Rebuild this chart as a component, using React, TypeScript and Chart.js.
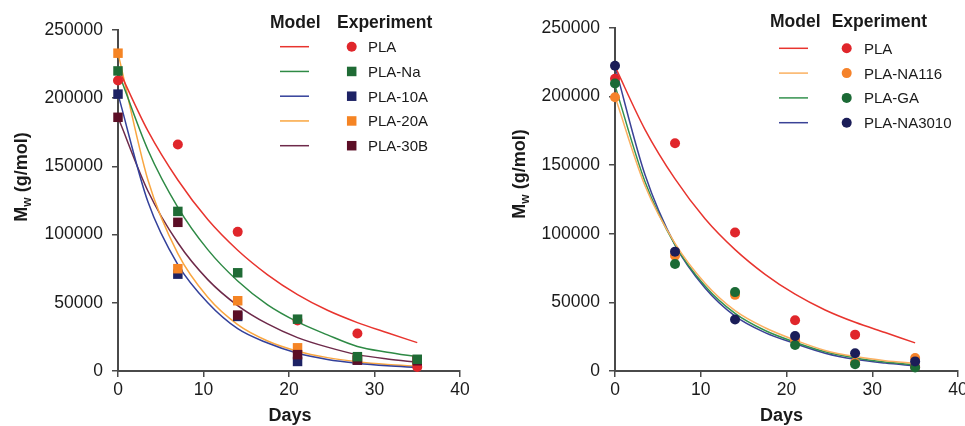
import React, { useEffect, useRef } from 'react';
import { Chart, registerables } from 'chart.js';

Chart.register(...registerables);

const FONT = '"Liberation Sans", Arial, Helvetica, sans-serif';
Chart.defaults.font.family = FONT;

// ---------- shared axes ----------
const expDays = [0, 7, 14, 21, 28, 35];
const modelDays = [0, 3.5, 7, 10.5, 14, 17.5, 21, 24.5, 28, 31.5, 35];
const xTicks = [0, 10, 20, 30, 40];
const yTicks = [0, 50000, 100000, 150000, 200000, 250000];
const xTitle = 'Days';
const yTitleMain = 'M';
const yTitleSub = 'w';
const yTitleRest = ' (g/mol)';
const legendHeaderModel = 'Model';
const legendHeaderExp = 'Experiment';

// ---------- left panel ----------
const leftNames = ['PLA', 'PLA-Na', 'PLA-10A', 'PLA-20A', 'PLA-30B'];
const leftExpPLA = [213000, 166000, 102000, 37000, 27500, 3000];
const leftExpNa = [220000, 117000, 72000, 38000, 10500, 8600];
const leftExp10A = [203000, 71000, 40000, 7000, 8000, 8000];
const leftExp20A = [233000, 75000, 51500, 17000, 9000, 8000];
const leftExp30B = [186000, 109000, 41000, 12000, 8000, 7500];
const leftModelPLA = [222000, 176000, 140000, 111000, 88500, 70500, 56000, 44500, 35500, 28000, 20800];
const leftModelNa = [220000, 162000, 120000, 89000, 66000, 48500, 36000, 26500, 18000, 13800, 10500];
const leftModel10A = [203000, 124000, 78000, 50000, 31000, 20500, 13000, 8500, 5700, 3800, 2500];
const leftModel20A = [233000, 140000, 86000, 54000, 34000, 22000, 14500, 9800, 6800, 4800, 3500];
const leftModel30B = [186000, 132000, 94000, 67000, 48000, 34500, 24500, 17500, 12000, 8800, 6500];

// ---------- right panel ----------
const rightNames = ['PLA', 'PLA-NA116', 'PLA-GA', 'PLA-NA3010'];
const rightExpPLA = [213000, 166000, 101000, 37000, 26500, 3000];
const rightExpNA116 = [199500, 84000, 55500, 22500, 6000, 9500];
const rightExpGA = [209500, 78000, 57500, 19000, 5000, 2500];
const rightExpNA3010 = [222500, 87000, 37500, 25500, 13000, 7000];
const rightModelPLA = [222000, 176000, 140000, 111000, 88500, 70500, 56000, 44500, 35500, 28000, 20500];
const rightModelNA116 = [200000, 135000, 93000, 64000, 44000, 31500, 22500, 15000, 10500, 7500, 5500];
const rightModelGA = [208000, 138000, 92000, 62000, 42000, 29500, 21000, 14000, 9500, 6500, 4500];
const rightModelNA3010 = [222000, 143000, 92000, 60500, 40000, 28000, 20000, 13000, 8500, 5800, 3800];

type Series = {
  name: string;
  exp: number[];
  model: number[];
  marker: string;
  line: string;
  style: 'circle' | 'rect';
  z: number; // 1 = topmost
};

const leftSeries: Series[] = [
  { name: leftNames[0], exp: leftExpPLA, model: leftModelPLA, marker: '#e0262b', line: '#e8342e', style: 'circle', z: 5 },
  { name: leftNames[1], exp: leftExpNa, model: leftModelNa, marker: '#1f6b35', line: '#2e8a45', style: 'rect', z: 1 },
  { name: leftNames[2], exp: leftExp10A, model: leftModel10A, marker: '#1d2264', line: '#33409a', style: 'rect', z: 4 },
  { name: leftNames[3], exp: leftExp20A, model: leftModel20A, marker: '#f58424', line: '#f9a640', style: 'rect', z: 3 },
  { name: leftNames[4], exp: leftExp30B, model: leftModel30B, marker: '#5c0e26', line: '#6e2a4a', style: 'rect', z: 2 },
];

const rightSeries: Series[] = [
  { name: rightNames[0], exp: rightExpPLA, model: rightModelPLA, marker: '#e0262b', line: '#e8342e', style: 'circle', z: 4 },
  { name: rightNames[1], exp: rightExpNA116, model: rightModelNA116, marker: '#f5822a', line: '#fbb060', style: 'circle', z: 3 },
  { name: rightNames[2], exp: rightExpGA, model: rightModelGA, marker: '#1b6a35', line: '#34924e', style: 'circle', z: 2 },
  { name: rightNames[3], exp: rightExpNA3010, model: rightModelNA3010, marker: '#1b1d58', line: '#3a4296', style: 'circle', z: 1 },
];

type PanelCfg = {
  series: Series[];
  canvasLeft: number;
  canvasWidth: number;
  yAxisWidth: number;
  padTop: number;
  padRight: number;
  yTitleX: number;
  yTitleY: number;
  xTitleX: number;
  legend: {
    modelX: number;
    expX: number;
    headerBase: number;
    lineX0: number;
    lineX1: number;
    markerX: number;
    labelX: number;
    rowY0: number;
    rowStep: number;
  };
};

const leftCfg: PanelCfg = {
  series: leftSeries,
  canvasLeft: 0,
  canvasWidth: 480,
  yAxisWidth: 118,
  padTop: 30,
  padRight: 20,
  yTitleX: 21,
  yTitleY: 177,
  xTitleX: 290,
  legend: { modelX: 270, expX: 337, headerBase: 27.5, lineX0: 280, lineX1: 309, markerX: 351.7, labelX: 368, rowY0: 46.7, rowStep: 24.75 },
};

const rightCfg: PanelCfg = {
  series: rightSeries,
  canvasLeft: 480,
  canvasWidth: 510,
  yAxisWidth: 135,
  padTop: 28,
  padRight: 32,
  yTitleX: 39,
  yTitleY: 174,
  xTitleX: 301.5,
  legend: { modelX: 290, expX: 351.7, headerBase: 26.5, lineX0: 299, lineX1: 328, markerX: 366.7, labelX: 384, rowY0: 48.3, rowStep: 24.8 },
};

const AXIS = '#4a4a4a';
const TEXT = '#1a1a1a';

function drawMarker(ctx: CanvasRenderingContext2D, s: Series, x: number, y: number) {
  ctx.fillStyle = s.marker;
  if (s.style === 'circle') {
    ctx.beginPath();
    ctx.arc(x, y, 5, 0, Math.PI * 2);
    ctx.fill();
  } else {
    ctx.fillRect(x - 4.75, y - 4.75, 9.5, 9.5);
  }
}

function makeOverlay(cfg: PanelCfg) {
  return {
    id: 'overlay',
    afterDraw(chart: Chart) {
      const ctx = chart.ctx;
      // y-axis title with subscript
      ctx.save();
      ctx.translate(cfg.yTitleX, cfg.yTitleY);
      ctx.rotate(-Math.PI / 2);
      ctx.fillStyle = TEXT;
      ctx.textBaseline = 'alphabetic';
      ctx.textAlign = 'left';
      const big = `bold 18px ${FONT}`;
      const small = `bold 12px ${FONT}`;
      ctx.font = big;
      const wM = ctx.measureText(yTitleMain).width;
      const wR = ctx.measureText(yTitleRest).width;
      ctx.font = small;
      const wW = ctx.measureText(yTitleSub).width;
      let x = -(wM + wW + wR) / 2;
      ctx.font = big;
      ctx.fillText(yTitleMain, x, 6.4);
      x += wM;
      ctx.font = small;
      ctx.fillText(yTitleSub, x, 10);
      x += wW;
      ctx.font = big;
      ctx.fillText(yTitleRest, x, 6.4);
      ctx.restore();

      // x-axis title
      ctx.save();
      ctx.fillStyle = TEXT;
      ctx.font = `bold 18px ${FONT}`;
      ctx.textAlign = 'center';
      ctx.textBaseline = 'alphabetic';
      ctx.fillText(xTitle, cfg.xTitleX, 421);
      ctx.restore();

      // legend
      const L = cfg.legend;
      ctx.save();
      ctx.fillStyle = TEXT;
      ctx.font = `bold 17.5px ${FONT}`;
      ctx.textAlign = 'left';
      ctx.textBaseline = 'alphabetic';
      ctx.fillText(legendHeaderModel, L.modelX, L.headerBase);
      ctx.fillText(legendHeaderExp, L.expX, L.headerBase);
      cfg.series.forEach((s, i) => {
        const y = L.rowY0 + i * L.rowStep;
        ctx.strokeStyle = s.line;
        ctx.lineWidth = 1.5;
        ctx.beginPath();
        ctx.moveTo(L.lineX0, y);
        ctx.lineTo(L.lineX1, y);
        ctx.stroke();
        drawMarker(ctx, s, L.markerX, y);
        ctx.fillStyle = TEXT;
        ctx.font = `15px ${FONT}`;
        ctx.fillText(s.name, L.labelX, y + 5.4);
      });
      ctx.restore();
    },
  };
}

function buildDatasets(series: Series[]) {
  const ds: any[] = [];
  series.forEach((s, i) => {
    ds.push({
      label: s.name + ' model',
      data: modelDays.map((d, j) => ({ x: d, y: s.model[j] })),
      showLine: true,
      borderColor: s.line,
      borderWidth: 1.5,
      pointRadius: 0,
      tension: 0.4,
      cubicInterpolationMode: 'monotone',
      fill: false,
      clip: false,
      order: 20 + i,
    });
    ds.push({
      label: s.name,
      data: expDays.map((d, j) => ({ x: d, y: s.exp[j] })),
      showLine: false,
      pointStyle: s.style,
      pointRadius: s.style === 'rect' ? 6.7 : 5,
      pointBackgroundColor: s.marker,
      pointBorderColor: s.marker,
      pointBorderWidth: 0,
      clip: false,
      order: s.z,
    });
  });
  return ds;
}

function Panel({ cfg }: { cfg: PanelCfg }) {
  const ref = useRef<HTMLCanvasElement>(null);
  useEffect(() => {
    const canvas = ref.current;
    if (!canvas) return;
    const grid = {
      display: true,
      drawOnChartArea: false,
      drawTicks: true,
      tickLength: 6,
      color: AXIS,
      lineWidth: 1.5,
    };
    const border = { display: true, color: AXIS, width: 2 };
    const chart = new Chart(canvas, {
      type: 'scatter',
      data: { datasets: buildDatasets(cfg.series) },
      options: {
        responsive: false,
        animation: false,
        devicePixelRatio: 1,
        layout: { padding: { left: 0, top: cfg.padTop, right: cfg.padRight, bottom: 0 } },
        plugins: {
          legend: { display: false },
          tooltip: { enabled: false },
          title: { display: false },
        },
        scales: {
          x: {
            type: 'linear',
            min: 0,
            max: 40,
            afterBuildTicks: (s: any) => {
              s.ticks = xTicks.map((v) => ({ value: v }));
            },
            afterFit: (s: any) => {
              s.height = 55;
            },
            grid,
            border,
            ticks: {
              color: TEXT,
              font: { size: 17.5, family: FONT },
              padding: 3,
              maxRotation: 0,
              autoSkip: false,
              callback: (v: any) => String(v),
            },
          },
          y: {
            type: 'linear',
            min: 0,
            max: 250000,
            afterBuildTicks: (s: any) => {
              s.ticks = yTicks.map((v) => ({ value: v }));
            },
            afterFit: (s: any) => {
              s.width = cfg.yAxisWidth;
            },
            grid,
            border,
            ticks: {
              color: TEXT,
              font: { size: 17.5, family: FONT },
              padding: 9,
              autoSkip: false,
              callback: (v: any) => String(v),
            },
          },
        },
      } as any,
      plugins: [makeOverlay(cfg) as any],
    });
    return () => chart.destroy();
  }, [cfg]);
  return (
    <canvas
      ref={ref}
      width={cfg.canvasWidth}
      height={426}
      style={{ position: 'absolute', left: cfg.canvasLeft, top: 0, width: cfg.canvasWidth, height: 426 }}
    />
  );
}

export default function App() {
  return (
    <div
      style={{
        position: 'fixed',
        left: 0,
        top: 0,
        width: 965,
        height: 426,
        overflow: 'hidden',
        background: '#ffffff',
      }}
    >
      <Panel cfg={leftCfg} />
      <Panel cfg={rightCfg} />
    </div>
  );
}
